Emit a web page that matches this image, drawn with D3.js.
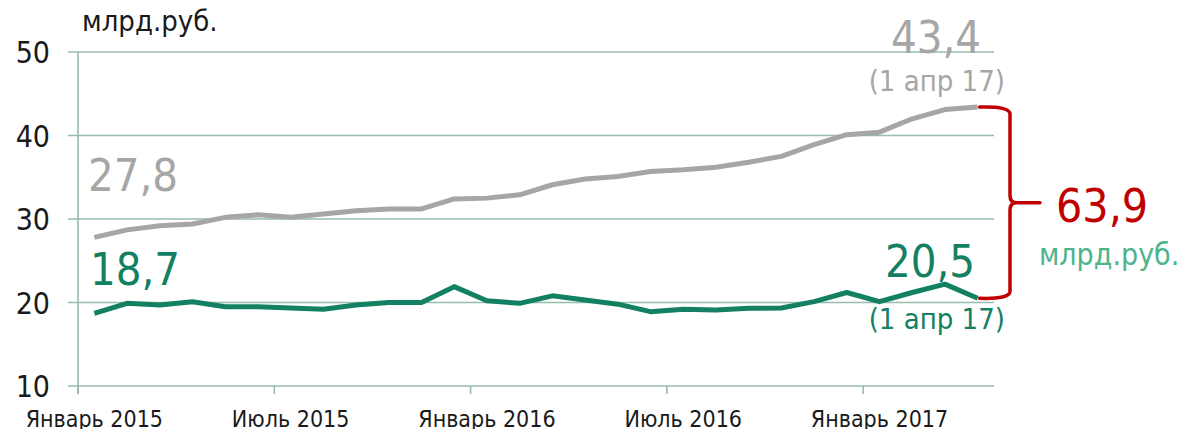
<!DOCTYPE html>
<html>
<head>
<meta charset="utf-8">
<script src="https://cdn.jsdelivr.net/npm/d3@7"></script>
<style>
  html, body { margin: 0; padding: 0; background: #fff; }
  svg { display: block; }
  text { font-family: "DejaVu Sans Condensed", "DejaVu Sans", sans-serif; font-stretch: condensed; }
</style>
</head>
<body>
<svg id="chart" width="1182" height="429"></svg>
<script>
// ---- data ----
const months = ["2015-01","2015-02","2015-03","2015-04","2015-05","2015-06","2015-07","2015-08","2015-09","2015-10","2015-11","2015-12",
                "2016-01","2016-02","2016-03","2016-04","2016-05","2016-06","2016-07","2016-08","2016-09","2016-10","2016-11","2016-12",
                "2017-01","2017-02","2017-03","2017-04"];
const grayValues  = [27.8, 28.7, 29.2, 29.4, 30.2, 30.5, 30.2, 30.6, 31.0, 31.2, 31.2, 32.4, 32.5, 32.9, 34.1, 34.8, 35.1, 35.7, 35.9, 36.2, 36.8, 37.5, 38.9, 40.1, 40.4, 42.0, 43.1, 43.4];
const greenValues = [18.7, 19.9, 19.7, 20.1, 19.5, 19.5, 19.35, 19.2, 19.7, 20.0, 20.0, 21.9, 20.2, 19.9, 20.8, 20.3, 19.8, 18.9, 19.2, 19.1, 19.3, 19.35, 20.1, 21.2, 20.1, 21.2, 22.2, 20.5];
const xTickMonths = ["2015-01","2015-07","2016-01","2016-07","2017-01"];
const xTickLabels = ["Январь 2015","Июль 2015","Январь 2016","Июль 2016","Январь 2017"];
const yTicks = [10, 20, 30, 40, 50];
const unitLabel = "млрд.руб.";
const totalLabel = "63,9";
const dateLabel = "(1 апр 17)";
const fmt = v => d3.format(".1f")(v).replace(".", ",");

// ---- layout ----
const svg = d3.select("#chart");
const x = d3.scaleBand().domain(months).range([78, 994]);
const cx = m => x(m) + x.bandwidth() / 2;
const y = d3.scaleLinear().domain([10, 50]).range([386, 52]);
const gridColor = "#96bcaa";
const grayColor = "#a6a6a6";
const greenColor = "#138062";
const redColor = "#c00000";

// gridlines
svg.append("g").selectAll("line").data(yTicks).join("line")
  .attr("x1", 68).attr("x2", 994)
  .attr("y1", d => y(d)).attr("y2", d => y(d))
  .attr("stroke", gridColor).attr("stroke-width", 1.6);

// y axis line
svg.append("line").attr("x1", 78).attr("x2", 78).attr("y1", y(50)).attr("y2", y(10) + 8)
  .attr("stroke", gridColor).attr("stroke-width", 1.6);

// y labels
svg.append("g").selectAll("text").data(yTicks).join("text")
  .attr("x", 50).attr("y", d => y(d) + 11)
  .attr("text-anchor", "end").attr("font-size", 30).attr("fill", "#1a1a1a")
  .text(d => d);

// x ticks
svg.append("g").selectAll("line").data(xTickMonths).join("line")
  .attr("x1", d => x(d)).attr("x2", d => x(d))
  .attr("y1", y(10)).attr("y2", y(10) + 8)
  .attr("stroke", gridColor).attr("stroke-width", 1.6);

svg.append("g").selectAll("text").data(xTickMonths).join("text")
  .attr("x", d => cx(d)).attr("y", 427)
  .attr("text-anchor", "middle").attr("font-size", 23).attr("fill", "#1a1a1a")
  .text((d, i) => xTickLabels[i]);

// unit label
svg.append("text").attr("x", 82).attr("y", 31).attr("font-size", 29).attr("fill", "#1a1a1a").text(unitLabel);

// lines
const line = d3.line().x((d, i) => cx(months[i])).y(d => y(d));
svg.append("path").datum(grayValues).attr("d", line)
  .attr("fill", "none").attr("stroke", grayColor).attr("stroke-width", 5).attr("stroke-linejoin", "round");
svg.append("path").datum(greenValues).attr("d", line)
  .attr("fill", "none").attr("stroke", greenColor).attr("stroke-width", 5).attr("stroke-linejoin", "round");

// value labels
const last = months.length - 1;
svg.append("text").attr("x", 88).attr("y", 191).attr("font-size", 45).attr("fill", grayColor).text(fmt(grayValues[0]));
svg.append("text").attr("x", 90).attr("y", 285).attr("font-size", 45).attr("fill", greenColor).text(fmt(greenValues[0]));
svg.append("text").attr("x", 981).attr("y", 53).attr("text-anchor", "end").attr("font-size", 45).attr("fill", grayColor).text(fmt(grayValues[last]));
svg.append("text").attr("x", 1005).attr("y", 91).attr("text-anchor", "end").attr("font-size", 29).attr("fill", grayColor).text(dateLabel);
svg.append("text").attr("x", 975).attr("y", 277).attr("text-anchor", "end").attr("font-size", 45).attr("fill", greenColor).text(fmt(greenValues[last]));
svg.append("text").attr("x", 1005).attr("y", 329).attr("text-anchor", "end").attr("font-size", 29).attr("fill", greenColor).text(dateLabel);

// brace
const bx0 = cx(months[last]) + 2;
const bx1 = 1010, bxt = 1040;
const byTop = y(grayValues[last]), byBot = y(greenValues[last]);
const byMid = (byTop + byBot) / 2;
const r = 7;
const p = d3.path();
p.moveTo(bx0, byTop);
p.quadraticCurveTo(bx1, byTop - 1, bx1, byTop + r);
p.lineTo(bx1, byMid - r);
p.quadraticCurveTo(bx1, byMid, bx1 + r, byMid);
p.lineTo(bxt, byMid);
p.moveTo(bx1 + r, byMid);
p.quadraticCurveTo(bx1, byMid, bx1, byMid + r);
p.lineTo(bx1, byBot - r);
p.quadraticCurveTo(bx1, byBot + 1, bx0, byBot);
svg.append("path").attr("d", p.toString()).attr("fill", "none")
  .attr("stroke", redColor).attr("stroke-width", 3.5).attr("stroke-linecap", "round");

svg.append("text").attr("x", 1056).attr("y", byMid + 19).attr("font-size", 46).attr("fill", redColor).text(totalLabel);
svg.append("text").attr("x", 1039).attr("y", 265).attr("font-size", 30).attr("fill", "#4db38a").text(unitLabel);
</script>
</body>
</html>
